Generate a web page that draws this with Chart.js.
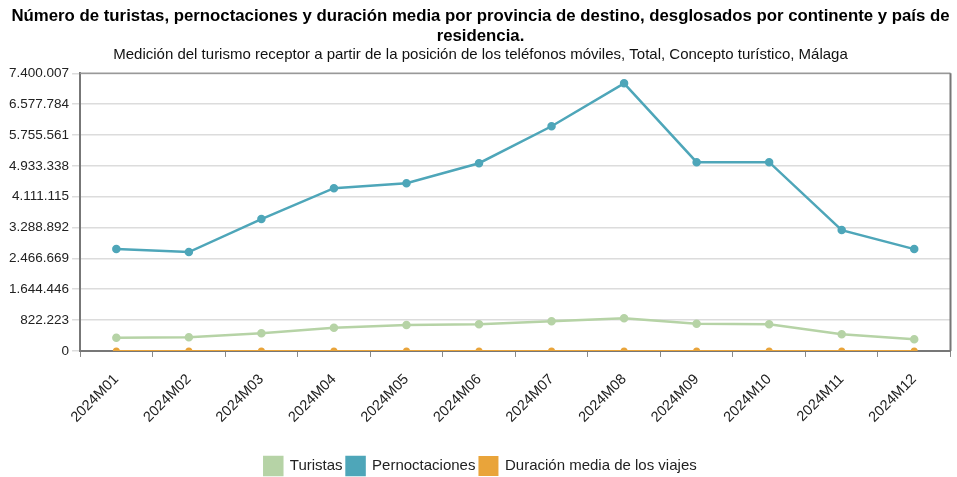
<!DOCTYPE html>
<html>
<head>
<meta charset="utf-8">
<script src="https://cdn.jsdelivr.net/npm/chart.js@4"></script>
<style>
  body { margin: 0; background: #fff; }
  #wrap { width: 957px; height: 477px; }
</style>
</head>
<body>
<div id="wrap"><canvas id="lineChart"></canvas></div>
<script>
// Datos
const meses = ["2024M01", "2024M02", "2024M03", "2024M04", "2024M05", "2024M06",
  "2024M07", "2024M08", "2024M09", "2024M10", "2024M11", "2024M12"];
const turistas = [354000, 364000, 471000, 621000, 692000, 711000, 790000, 870000, 727000, 711000, 444000, 311000];
const pernoctaciones = [2715000, 2635000, 3514000, 4339000, 4472000, 5004000, 5989000, 7134000, 5031000, 5031000, 3221000, 2715000];
const duracion = [7.6, 7.2, 7.5, 7.0, 6.5, 7.0, 7.6, 8.2, 6.9, 7.1, 7.2, 8.7];
const yTicks = [0, 822223, 1644446, 2466669, 3288892, 4111115, 4933338, 5755561, 6577784, 7400007];

const fmt = (v) => String(Math.round(v)).replace(/\B(?=(\d{3})+(?!\d))/g, ".");

Chart.defaults.font.family = "'Liberation Sans', Arial, sans-serif";
Chart.defaults.color = "#222";

// marco gris arriba y a la derecha del area del grafico
const marco = {
  id: "marco",
  beforeDatasetsDraw(chart) {
    const { ctx, chartArea: a } = chart;
    ctx.save();
    ctx.strokeStyle = "#999";
    ctx.lineWidth = 1.5;
    ctx.beginPath();
    ctx.moveTo(a.left, a.top);
    ctx.lineTo(a.right, a.top);
    ctx.stroke();
    ctx.strokeStyle = "#777";
    ctx.lineWidth = 2;
    ctx.beginPath();
    ctx.moveTo(a.right, a.top);
    ctx.lineTo(a.right, a.bottom);
    ctx.stroke();
    ctx.restore();
  },
};

const ctx = document.getElementById("lineChart");
new Chart(ctx, {
  type: "line",
  data: {
    labels: meses,
    datasets: [
      {
        label: "Turistas",
        data: turistas,
        borderColor: "#b6d3a6",
        backgroundColor: "#b6d3a6",
        borderWidth: 2.5,
        pointRadius: 3,
      },
      {
        label: "Pernoctaciones",
        data: pernoctaciones,
        borderColor: "#4ea6b9",
        backgroundColor: "#4ea6b9",
        borderWidth: 2.5,
        pointRadius: 3,
      },
      {
        label: "Duración media de los viajes",
        data: duracion,
        borderColor: "#e9a43a",
        backgroundColor: "#e9a43a",
        borderWidth: 2,
        pointRadius: 2.5,
      },
    ],
  },
  options: {
    responsive: true,
    maintainAspectRatio: false,
    animation: false,
    layout: { padding: { left: 6, right: 2, top: 0, bottom: -8 } },
    plugins: {
      title: {
        display: true,
        text: ["Número de turistas, pernoctaciones y duración media por provincia de destino, desglosados por continente y país de", "residencia."],
        font: { size: 16.8, weight: "bold" },
        color: "#000",
        padding: { top: 6, bottom: 0 },
        lineHeight: 1.08,
      },
      subtitle: {
        display: true,
        text: "Medición del turismo receptor a partir de la posición de los teléfonos móviles, Total, Concepto turístico, Málaga",
        font: { size: 15 },
        color: "#111",
        padding: { top: 0, bottom: 9 },
      },
      legend: {
        position: "bottom",
        labels: { boxWidth: 18, boxHeight: 18, padding: 4, font: { size: 15 }, color: "#222" },
      },
      tooltip: { enabled: false },
    },
    scales: {
      x: {
        offset: true,
        grid: { offset: true, drawOnChartArea: false, tickLength: 6, color: "#888" },
        border: { color: "#777", width: 2 },
        ticks: { minRotation: 45, maxRotation: 45, font: { size: 14.5 }, color: "#222", padding: 14 },
        afterFit: (scale) => { scale.height += 13; },
      },
      y: {
        min: 0,
        max: 7400007,
        afterBuildTicks: (axis) => { axis.ticks = yTicks.map((v) => ({ value: v })); },
        grid: { color: "#dcdcdc", tickLength: 8, lineWidth: 1.5 },
        border: { color: "#777", width: 2 },
        ticks: { font: { size: 13.5 }, color: "#222", callback: (v) => fmt(v) },
      },
    },
  },
  plugins: [marco],
});
</script>
</body>
</html>
